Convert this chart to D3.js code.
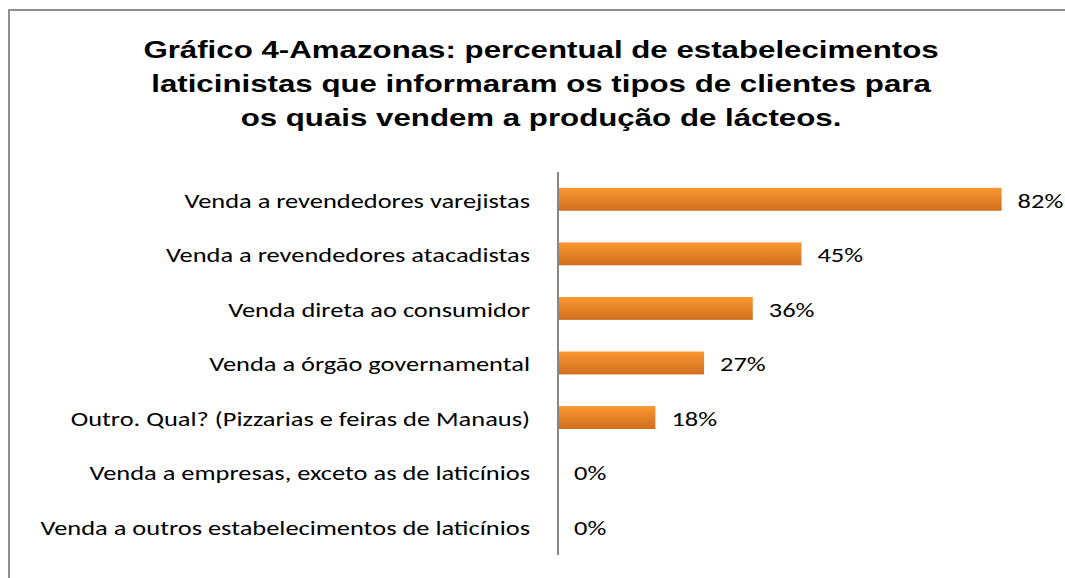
<!DOCTYPE html>
<html>
<head>
<meta charset="utf-8">
<script src="https://cdn.jsdelivr.net/npm/d3@7"></script>
<style>
  body { margin: 0; background: #fff; }
  svg { display: block; }
  .title { font-family: "Liberation Sans", Arial, sans-serif; font-weight: bold; font-size: 23.5px; fill: #000; }
  .cat { font-family: Carlito, Calibri, Lato, sans-serif; font-size: 20.8px; fill: #000; }
  .val { font-family: Carlito, Calibri, Lato, sans-serif; font-size: 20.8px; fill: #000; }
</style>
</head>
<body>
<svg id="chart"></svg>
<script>
// data
const categories = [
  'Venda a revendedores varejistas',
  'Venda a revendedores atacadistas',
  'Venda direta ao consumidor',
  'Venda a órgão governamental',
  'Outro. Qual? (Pizzarias e feiras de Manaus)',
  'Venda a empresas, exceto as de laticínios',
  'Venda a outros estabelecimentos de laticínios'
];
const values = [82, 45, 36, 27, 18, 0, 0];
const titleLines = [
  'Gráfico 4-Amazonas: percentual de estabelecimentos',
  'laticinistas que informaram os tipos de clientes para',
  'os quais vendem a produção de lácteos.'
];

const width = 1065;
const height = 578;
// the original picture is stretched sideways, so text gets widened too
const titleStretch = 1.33;
const textStretch = 1.27;

const $svg = d3.select('#chart').attr('width', width).attr('height', height);

// gradient for bars
const grad = $svg.append('defs').append('linearGradient')
  .attr('id', 'barGrad')
  .attr('x1', 0).attr('y1', 0).attr('x2', 0).attr('y2', 1);
grad.append('stop').attr('offset', '0%').attr('stop-color', '#fb9730');
grad.append('stop').attr('offset', '100%').attr('stop-color', '#cf6e1e');

// frame
$svg.append('path')
  .attr('d', `M9,${height + 5} L9,10 L${width + 5},10`)
  .attr('fill', 'none')
  .attr('stroke', '#8e8e8e')
  .attr('stroke-width', 2);

// title
$svg.selectAll('text.title')
  .data(titleLines)
  .enter()
  .append('text')
  .attr('class', 'title')
  .attr('text-anchor', 'middle')
  .attr('transform', (d, i) => `translate(541,${58 + i * 34}) scale(${titleStretch},1)`)
  .text(d => d);

// scales
const x = d3.scaleLinear().domain([0, 100]).range([558, 558 + 541]);
const y = d3.scaleBand().domain(categories).range([172, 554]).paddingInner(0.58).paddingOuter(0.29);

const $vis = $svg.append('g');

$vis.selectAll('rect.bar')
  .data(values)
  .enter()
  .append('rect')
  .attr('class', 'bar')
  .attr('x', x(0))
  .attr('y', (d, i) => y(categories[i]))
  .attr('width', d => x(d) - x(0))
  .attr('height', y.bandwidth())
  .attr('fill', 'url(#barGrad)');

// category labels
$vis.selectAll('text.cat')
  .data(categories)
  .enter()
  .append('text')
  .attr('class', 'cat')
  .attr('transform', d => `translate(530,${y(d) + y.bandwidth() / 2}) scale(${textStretch},1)`)
  .attr('dy', '0.4em')
  .attr('text-anchor', 'end')
  .text(d => d);

// value labels
$vis.selectAll('text.val')
  .data(values)
  .enter()
  .append('text')
  .attr('class', 'val')
  .attr('transform', (d, i) => `translate(${x(d) + 16},${y(categories[i]) + y.bandwidth() / 2}) scale(${textStretch},1)`)
  .attr('dy', '0.4em')
  .text(d => d + '%');

// axis line
$vis.append('line')
  .attr('x1', x(0)).attr('x2', x(0))
  .attr('y1', 172).attr('y2', 555)
  .attr('stroke', '#868686')
  .attr('stroke-width', 2);
</script>
</body>
</html>
